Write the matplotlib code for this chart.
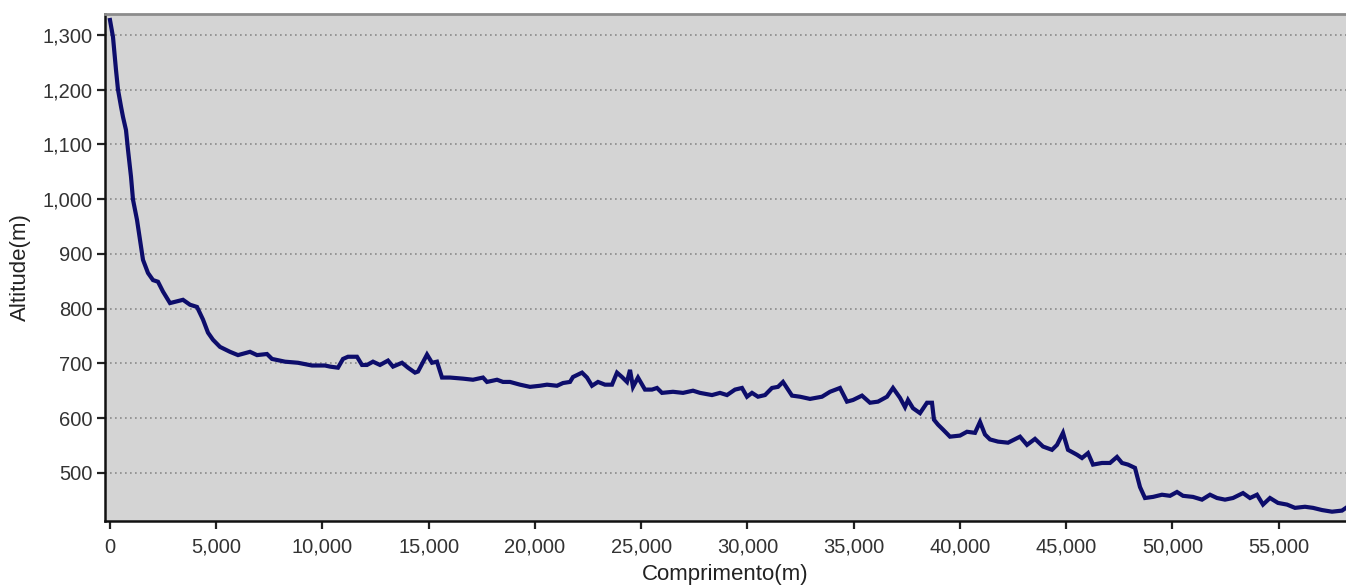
import matplotlib
matplotlib.use("Agg")
import matplotlib.pyplot as plt
from matplotlib.ticker import FuncFormatter

# Distance along profile (m)
distance = [0, 141, 282, 376, 518, 612, 753, 847, 988, 1082, 1271, 1412, 1553, 1788, 2024, 2259,
            2494, 2824, 3435, 3765, 4094, 4376, 4612, 4847, 5176, 5647, 6024, 6588, 6918, 7388,
            7624, 8235, 8847, 9506, 10118, 10353, 10729, 10965, 11200, 11624, 11859, 12094, 12376,
            12706, 13082, 13318, 13741, 14024, 14353, 14494, 14918, 15153, 15388, 15624, 16000,
            16612, 17082, 17553, 17741, 18212, 18494, 18824, 19294, 19765, 20235, 20565, 21035,
            21318, 21647, 21788, 22212, 22447, 22682, 22965, 23294, 23624, 23859, 24094, 24329,
            24471, 24612, 24847, 25176, 25506, 25741, 25976, 26494, 26965, 27435, 27765, 28329,
            28706, 29035, 29412, 29741, 29976, 30212, 30494, 30824, 31153, 31435, 31671, 31859,
            32094, 32471, 32941, 33506, 33882, 34353, 34682, 34965, 35388, 35765, 36141, 36565,
            36847, 37176, 37412, 37553, 37788, 38118, 38447, 38682, 38776, 38965, 39200, 39529,
            40000, 40329, 40706, 40941, 41176, 41412, 41788, 42259, 42824, 43153, 43529, 43906,
            44329, 44565, 44847, 45082, 45506, 45741, 46024, 46259, 46682, 47059, 47388, 47624,
            47906, 48235, 48471, 48706, 49082, 49506, 49882, 50212, 50494, 50965, 51388, 51765,
            52094, 52471, 52847, 53318, 53647, 53976, 54259, 54588, 54965, 55388, 55765, 56235,
            56612, 57035, 57506, 57976, 58165]

# Altitude (m)
altitude = [1327, 1296, 1236, 1200, 1169, 1150, 1126, 1090, 1041, 999, 962, 926, 889, 865, 852, 849,
            831, 810, 816, 807, 803, 780, 756, 743, 730, 721, 715, 721, 715, 717,
            708, 703, 701, 696, 696, 694, 692, 708, 712, 712, 697, 697, 703,
            697, 705, 694, 701, 692, 683, 685, 716, 701, 703, 674, 674,
            672, 670, 674, 666, 670, 666, 666, 661, 657, 659, 661, 659,
            664, 666, 675, 683, 674, 659, 666, 661, 661, 683, 675, 666,
            688, 657, 674, 652, 652, 655, 646, 648, 646, 650, 646, 642,
            646, 642, 652, 655, 639, 646, 639, 642, 655, 657, 666, 655,
            641, 639, 635, 639, 648, 655, 630, 633, 641, 628, 630, 639,
            655, 637, 620, 633, 618, 609, 628, 628, 597, 588, 579, 566,
            568, 575, 573, 593, 570, 561, 557, 555, 566, 551, 562, 548,
            542, 551, 573, 542, 533, 527, 536, 515, 518, 518, 529, 518,
            515, 509, 474, 454, 456, 460, 458, 465, 458, 456, 451, 460,
            454, 451, 454, 463, 454, 460, 442, 454, 445, 442, 436, 438,
            436, 432, 429, 431, 436]

y_ticks = [500, 600, 700, 800, 900, 1000, 1100, 1200, 1300]
x_ticks = [0, 5000, 10000, 15000, 20000, 25000, 30000, 35000, 40000, 45000, 50000, 55000]

plt.rcParams['font.family'] = ['Liberation Sans', 'DejaVu Sans']

fig = plt.figure(figsize=(13.46, 5.86), dpi=100)
ax = fig.add_axes([105/1346, 1 - 521/586, 1241/1346, (521 - 14)/586])
ax.set_facecolor('#d4d4d4')

ax.plot(distance, altitude, color='#0d0d6b', lw=3.0, solid_joinstyle='miter')

ax.set_xlim(-235, 58165)
ax.set_ylim(412, 1338)
ax.set_yticks(y_ticks)
ax.set_xticks(x_ticks)
fmt = FuncFormatter(lambda v, p: f"{int(v):,}")
ax.xaxis.set_major_formatter(fmt)
ax.yaxis.set_major_formatter(fmt)

ax.yaxis.grid(True, linestyle=(0, (1, 2)), color='#8a8a8a', linewidth=1.2)
ax.xaxis.grid(False)
ax.set_axisbelow(True)

ax.tick_params(axis='both', labelsize=14.5, colors='#222222', length=6, width=1.6, direction='out')
for lbl in ax.get_xticklabels() + ax.get_yticklabels():
    lbl.set_color('#333333')
ax.tick_params(axis='x', pad=6)
ax.tick_params(axis='y', pad=3)

ax.spines['left'].set_color('#111111')
ax.spines['left'].set_linewidth(1.8)
ax.spines['bottom'].set_color('#111111')
ax.spines['bottom'].set_linewidth(1.8)
ax.spines['top'].set_color('#8c8c8c')
ax.spines['top'].set_linewidth(2.0)
ax.spines['right'].set_visible(False)

ax.set_xlabel('Comprimento(m)', fontsize=16, color='#222222', labelpad=5)
ax.set_ylabel('Altitude(m)', fontsize=16, color='#222222', labelpad=8)

fig.savefig('out.png', dpi=100, facecolor='white')
